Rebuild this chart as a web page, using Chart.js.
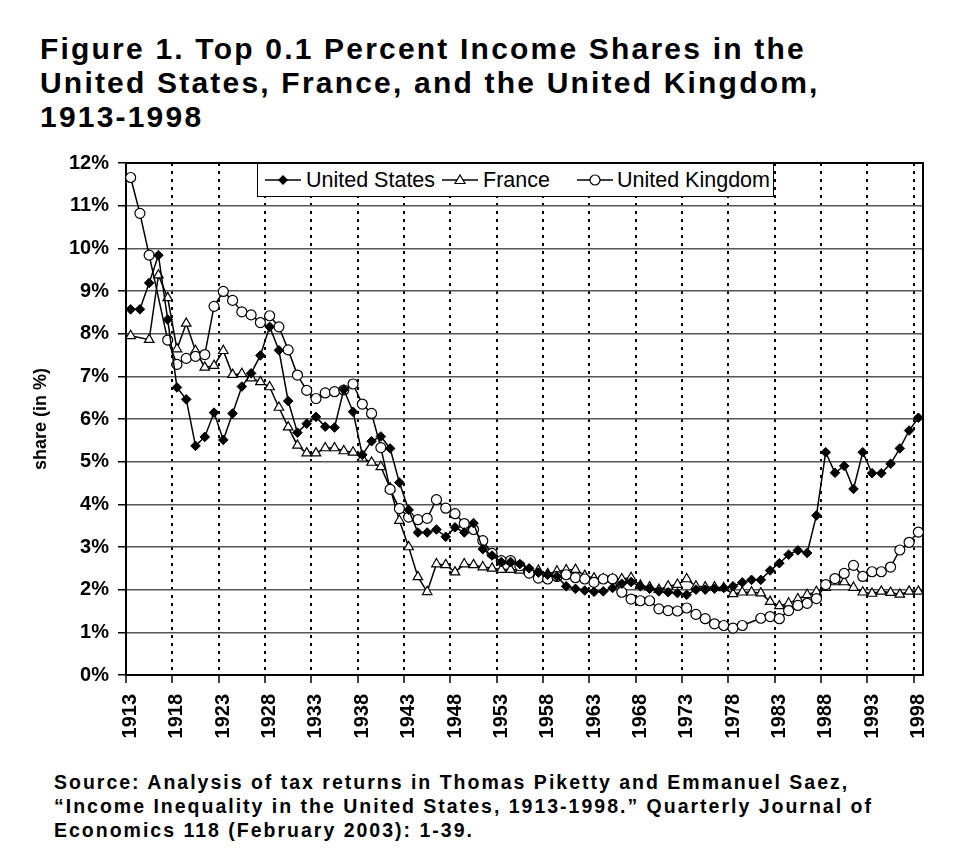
<!DOCTYPE html>
<html>
<head>
<meta charset="utf-8">
<script src="https://cdn.jsdelivr.net/npm/chart.js@4.4.1/dist/chart.umd.min.js"></script>
<style>
  html, body { margin: 0; padding: 0; background: #fff; }
  #wrap { position: relative; width: 979px; height: 868px; overflow: hidden; font-family: "Liberation Sans", Arial, sans-serif; color: #000; }
  #title { position: absolute; left: 40px; top: 32px; font-weight: bold; font-size: 30px; line-height: 34px; white-space: nowrap; letter-spacing: 2.2px; }
  #source { position: absolute; left: 54px; top: 770px; font-weight: bold; font-size: 19.5px; line-height: 24px; white-space: nowrap; letter-spacing: 2px; }
  #chartbox { position: absolute; left: 0; top: 140px; width: 979px; height: 620px; }
  #legend { position: absolute; left: 257px; top: 163px; width: 517px; height: 34px; border: 1.5px solid #000; background: #fff; box-sizing: border-box; font-size: 21.5px; }
  .li { position: absolute; top: 0; height: 100%; display: flex; align-items: center; white-space: nowrap; }
</style>
</head>
<body>
<div id="wrap">
  <div id="title">Figure 1. Top 0.1 Percent Income Shares in the<br>United States, France, and the United Kingdom,<br>1913-1998</div>
  <div id="chartbox"><canvas id="c"></canvas></div>
  <div id="legend"></div>
  <div id="source">Source: Analysis of tax returns in Thomas Piketty and Emmanuel Saez,<br>“Income Inequality in the United States, 1913-1998.” Quarterly Journal of<br>Economics 118 (February 2003): 1-39.</div>
</div>
<script>
const years = ['1913','1914','1915','1916','1917','1918','1919','1920','1921','1922',
  '1923','1924','1925','1926','1927','1928','1929','1930','1931','1932',
  '1933','1934','1935','1936','1937','1938','1939','1940','1941','1942',
  '1943','1944','1945','1946','1947','1948','1949','1950','1951','1952',
  '1953','1954','1955','1956','1957','1958','1959','1960','1961','1962',
  '1963','1964','1965','1966','1967','1968','1969','1970','1971','1972',
  '1973','1974','1975','1976','1977','1978','1979','1980','1981','1982',
  '1983','1984','1985','1986','1987','1988','1989','1990','1991','1992',
  '1993','1994','1995','1996','1997','1998'];

const xTickYears = ['1913','1918','1923','1928','1933','1938','1943','1948','1953','1958',
  '1963','1968','1973','1978','1983','1988','1993','1998'];

const yTickLabels = ['0%','1%','2%','3%','4%','5%','6%','7%','8%','9%','10%','11%','12%'];

const seriesNames = ['United States', 'France', 'United Kingdom'];

const usShare = [8.57,8.57,9.19,9.84,8.33,6.74,6.46,5.37,5.58,6.15,
  5.51,6.13,6.76,7.07,7.49,8.16,7.61,6.42,5.68,5.89,
  6.05,5.82,5.80,6.69,6.17,5.16,5.48,5.59,5.31,4.51,
  3.87,3.34,3.34,3.41,3.24,3.46,3.34,3.56,2.95,2.80,
  2.65,2.65,2.60,2.50,2.40,2.35,2.31,2.08,2.02,1.98,
  1.95,1.96,2.04,2.14,2.18,2.08,2.02,1.96,1.94,1.92,
  1.88,2.00,2.00,2.02,2.04,2.08,2.17,2.23,2.23,2.45,
  2.62,2.82,2.92,2.86,3.74,5.22,4.74,4.90,4.36,5.22,
  4.73,4.73,4.95,5.31,5.73,6.03];

const franceShare = [7.95,null,7.86,9.37,8.84,7.64,8.24,7.60,7.21,7.25,
  7.60,7.04,7.06,6.96,6.87,6.75,6.27,5.81,5.38,5.20,
  5.20,5.32,5.32,5.25,5.22,5.08,4.98,4.88,4.38,3.62,
  3.00,2.30,1.95,2.60,2.58,2.41,2.60,2.58,2.53,2.50,
  2.47,2.47,2.45,2.42,2.45,2.37,2.43,2.46,2.47,2.33,
  2.27,2.25,2.25,2.25,2.28,2.10,2.06,2.00,2.08,2.12,
  2.25,2.08,2.06,2.06,2.04,1.90,1.94,1.94,1.92,1.72,
  1.62,1.68,1.78,1.88,1.95,2.05,2.18,2.18,2.05,1.94,
  1.91,1.96,1.93,1.89,1.96,1.96];

const ukShare = [11.66,10.82,9.84,null,7.85,7.28,7.42,7.47,7.51,8.64,
  8.99,8.78,8.51,8.44,8.26,8.42,8.16,7.62,7.03,6.67,
  6.48,6.61,6.64,6.68,6.82,6.35,6.13,5.33,4.35,3.90,
  3.70,3.64,3.67,4.11,3.91,3.78,3.55,3.41,3.15,2.85,
  2.68,2.68,2.56,2.39,2.27,2.25,2.31,2.35,2.28,2.25,
  2.17,2.25,2.25,1.94,1.78,1.74,1.74,1.55,1.51,1.50,
  1.57,1.42,1.32,1.20,1.16,1.10,1.16,null,1.33,1.37,
  1.32,1.51,1.63,1.68,1.79,2.12,2.26,2.38,2.57,2.31,
  2.42,2.42,2.53,2.93,3.11,3.35];

const FONT = '"Liberation Sans", Arial, sans-serif';

// HTML legend (real text)
const legendStyles = [
  {left: 264, textLeft: 305, marker: 'diamond'},
  {left: 441, textLeft: 482, marker: 'triangle'},
  {left: 576, textLeft: 616, marker: 'circle'}
];
function markerSvg(kind) {
  let m = '';
  if (kind === 'diamond') m = '<polygon points="18,2 23,7 18,12 13,7" fill="#000"/>';
  if (kind === 'triangle') m = '<polygon points="18,2 23,10.5 13,10.5" fill="#fff" stroke="#000" stroke-width="1.2"/>';
  if (kind === 'circle') m = '<circle cx="18" cy="7" r="5" fill="#fff" stroke="#000" stroke-width="1.2"/>';
  return '<svg width="36" height="14" viewBox="0 0 36 14"><line x1="0" y1="7" x2="36" y2="7" stroke="#000" stroke-width="1.5"/>' + m + '</svg>';
}
const legendEl = document.getElementById('legend');
seriesNames.forEach((name, i) => {
  const st = legendStyles[i];
  const sym = document.createElement('div');
  sym.className = 'li';
  sym.style.left = (st.left - 257) + 'px';
  sym.innerHTML = markerSvg(st.marker);
  legendEl.appendChild(sym);
  const tx = document.createElement('div');
  tx.className = 'li';
  tx.style.left = (st.textLeft - 257) + 'px';
  tx.textContent = name;
  legendEl.appendChild(tx);
});

const frameBox = {
  id: 'frameBox',
  beforeDatasetsDraw(chart) {
    const {ctx, chartArea: a} = chart;
    ctx.save();
    ctx.strokeStyle = '#000';
    ctx.lineWidth = 2;
    ctx.strokeRect(a.left, a.top, a.right - a.left, a.bottom - a.top);
    ctx.restore();
  }
};

const showGrid = (i) => typeof i === 'number' && i > 0 && i % 5 === 0;
const showTick = (i) => typeof i === 'number' && i % 5 === 0;

new Chart(document.getElementById('c'), {
  type: 'line',
  data: {
    labels: years,
    datasets: [
      {
        label: seriesNames[0], data: usShare, order: 0,
        borderColor: '#000', borderWidth: 1.5, backgroundColor: '#000',
        pointStyle: 'rectRot', pointRadius: 4.8, pointBackgroundColor: '#000', pointBorderColor: '#000', pointBorderWidth: 1,
        spanGaps: true, tension: 0
      },
      {
        label: seriesNames[1], data: franceShare, order: 2,
        borderColor: '#000', borderWidth: 1.5, backgroundColor: '#fff',
        pointStyle: 'triangle', pointRadius: 5.5, pointBackgroundColor: '#fff', pointBorderColor: '#000', pointBorderWidth: 1.2,
        spanGaps: true, tension: 0
      },
      {
        label: seriesNames[2], data: ukShare, order: 1,
        borderColor: '#000', borderWidth: 1.5, backgroundColor: '#fff',
        pointStyle: 'circle', pointRadius: 5, pointBackgroundColor: '#fff', pointBorderColor: '#000', pointBorderWidth: 1.2,
        spanGaps: true, tension: 0
      }
    ]
  },
  options: {
    responsive: true,
    maintainAspectRatio: false,
    animation: false,
    events: [],
    layout: { padding: { left: 20, right: 56, top: 23, bottom: 0 } },
    plugins: { legend: { display: false }, tooltip: { enabled: false } },
    scales: {
      x: {
        type: 'category',
        offset: true,
        grid: {
          offset: true,
          color: (c) => showGrid(c.index) ? '#000' : 'rgba(0,0,0,0)',
          lineWidth: 2,
          drawTicks: true,
          tickLength: 8,
          tickColor: (c) => showTick(c.index) ? '#000' : 'rgba(0,0,0,0)',
          tickWidth: 1.5,
          tickBorderDash: []
        },
        border: { display: true, color: '#000', width: 2, dash: [3, 5] },
        ticks: {
          autoSkip: false, minRotation: 90, maxRotation: 90,
          color: '#000', padding: 11,
          font: { family: FONT, size: 20, weight: 'bold' },
          callback(v) { const l = this.getLabelForValue(v); return xTickYears.includes(l) ? l : ''; }
        },
        afterFit(s) { s.height = 85; }
      },
      y: {
        min: 0, max: 12,
        grid: { color: '#555', lineWidth: 1.5, tickLength: 8, tickColor: '#000', tickWidth: 1.5 },
        border: { display: true, color: '#000', width: 2 },
        ticks: {
          stepSize: 1, color: '#000', padding: 9,
          font: { family: FONT, size: 20, weight: 'bold' },
          callback: (v) => yTickLabels[v]
        },
        title: {
          display: true, text: 'share (in %)', color: '#000',
          font: { family: FONT, size: 18, weight: 'bold' },
          padding: { top: 10, bottom: 0 }
        },
        afterFit(s) { s.width = 106; }
      }
    }
  },
  plugins: [frameBox]
});
</script>
</body>
</html>
